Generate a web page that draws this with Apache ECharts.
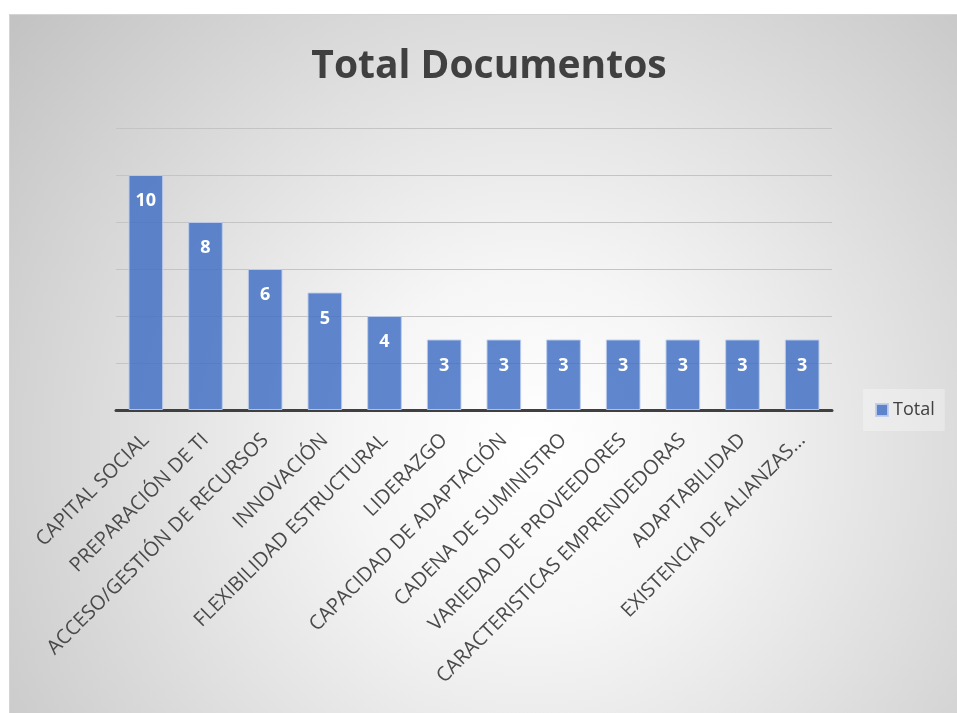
<!DOCTYPE html>
<html><head><meta charset="utf-8">
<script src="https://cdn.jsdelivr.net/npm/echarts@6/dist/echarts.min.js"></script>
<style>
html,body{margin:0;padding:0;background:#fff;overflow:hidden;width:957px;height:713px;}
#c{position:absolute;left:9px;top:14px;width:948px;height:699px;border-top:1px solid #d4d4d4;border-left:1px solid #d4d4d4;box-sizing:border-box;}
</style></head>
<body><div id="c"></div>
<script>
const categories = ["CAPITAL SOCIAL","PREPARACIÓN DE TI","ACCESO/GESTIÓN DE RECURSOS","INNOVACIÓN","FLEXIBILIDAD ESTRUCTURAL","LIDERAZGO","CAPACIDAD DE ADAPTACIÓN","CADENA DE SUMINISTRO","VARIEDAD DE PROVEEDORES","CARACTERISTICAS EMPRENDEDORAS","ADAPTABILIDAD","EXISTENCIA DE ALIANZAS..."];
const totals = [10,8,6,5,4,3,3,3,3,3,3,3];
const seriesName = "Total";
const chartTitle = "Total Documentos";

const chart = echarts.init(document.getElementById('c'));
chart.setOption({
  backgroundColor: {
    type: 'radial', x: 0.55, y: 0.62, r: 1.0,
    colorStops: [{offset:0,color:'#ffffff'},{offset:0.25,color:'#f6f6f6'},{offset:1,color:'#c0c0c0'}]
  },
  animation: false,
  title: {
    text: chartTitle, left: 474, top: 27, textAlign: 'center',
    textStyle: {fontFamily:'Open Sans', fontWeight:'bold', fontSize:39, color:'#404040'}
  },
  legend: {
    data: [seriesName], left: 853, top: 374, orient:'vertical',
    backgroundColor: 'rgba(255,255,255,0.3)', padding: [12, 10, 12, 12],
    itemWidth: 12, itemHeight: 12, icon: 'rect', itemGap: 6,
    textStyle: {fontFamily:'Open Sans', fontSize:18, color:'#404040'}
  },
  grid: {left:106, right:125, top:113, bottom:303, containLabel:false},
  xAxis: {
    type:'category', data: categories,
    axisLine: {lineStyle:{color:'#404040', width:3}},
    axisTick: {show:false},
    axisLabel: {rotate:45, interval:0, margin:27, fontFamily:'Open Sans', fontSize:20, color:'#4a4a4a'}
  },
  yAxis: {
    type:'value', min:0, max:12, interval:2,
    axisLabel:{show:false}, axisLine:{show:false}, axisTick:{show:false},
    splitLine:{lineStyle:{color:'#c4c4c4', width:1}}
  },
  series: [{
    name: seriesName, type:'bar', data: totals, barWidth:'58%',
    itemStyle: {color:'rgba(68,114,196,0.85)', borderColor:'rgba(190,205,235,0.9)', borderWidth:1},
    label: {show:true, position:'insideTop', distance:17, fontFamily:'Open Sans', fontWeight:'bold', fontSize:18, color:'#ffffff'}
  }]
});
</script></body></html>
